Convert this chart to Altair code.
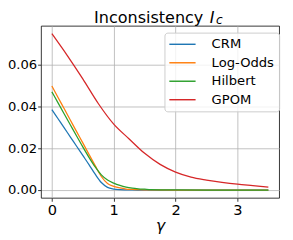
import altair as alt
import pandas as pd

# ---- data ----
series_names = ["CRM", "Log-Odds", "Hilbert", "GPOM"]
series_colors = ["#1f77b4", "#ff7f0e", "#2ca02c", "#d62728"]

gamma_fast = [0.0, 0.1, 0.2, 0.3, 0.4, 0.5, 0.6, 0.7, 0.8, 0.9, 1.0,
              1.1, 1.2, 1.3, 1.4, 1.5, 1.6, 2.0, 2.5, 3.0, 3.5]
crm = [0.0386, 0.0342, 0.0298, 0.0254, 0.0210, 0.0166, 0.0122, 0.0076, 0.0036, 0.0013, 0.0005,
       0.0002, 0.0001, 0.00004, 0.00002, 0.00001, 0.0, 0.0, 0.0, 0.0, 0.0]
log_odds = [0.0499, 0.0444, 0.0390, 0.0335, 0.0280, 0.0226, 0.0171, 0.0117, 0.0065, 0.0031, 0.0018,
            0.0010, 0.0005, 0.0003, 0.00015, 0.00007, 0.00003, 0.0, 0.0, 0.0, 0.0]
hilbert = [0.0471, 0.0418, 0.0365, 0.0312, 0.0259, 0.0207, 0.0157, 0.0111, 0.0073, 0.0048, 0.0033,
           0.0022, 0.0014, 0.0009, 0.0006, 0.0004, 0.0002, 0.00005, 0.0, 0.0, 0.0]

gamma_gpom = [0.0, 0.25, 0.5, 0.75, 1.0, 1.25, 1.5, 1.75, 2.0, 2.25, 2.5, 2.75, 3.0, 3.25, 3.5]
gpom = [0.0750, 0.0645, 0.0533, 0.0415, 0.0316, 0.0245, 0.0176, 0.0123, 0.0086, 0.0062,
        0.0048, 0.0037, 0.0028, 0.0021, 0.0014]

x_ticks = [0, 1, 2, 3]
y_ticks = [0.0, 0.02, 0.04, 0.06]
title_main = ["Inconsistency"]
title_sym = ["I"]
title_sub = ["c"]
x_title = "γ"

rows = []
for name, xs, ys in [("CRM", gamma_fast, crm), ("Log-Odds", gamma_fast, log_odds),
                     ("Hilbert", gamma_fast, hilbert), ("GPOM", gamma_gpom, gpom)]:
    for gx, gy in zip(xs, ys):
        rows.append({"gamma": gx, "value": gy, "series": name})
df = pd.DataFrame(rows)

FONT = "DejaVu Sans"

lines = alt.Chart(df).mark_line(strokeWidth=1.3, interpolate="monotone").encode(
    x=alt.X("gamma:Q",
            scale=alt.Scale(domain=[-0.175, 3.675], nice=False, zero=False),
            axis=alt.Axis(values=x_ticks, format="d", title=x_title,
                          labelFontSize=15,
                          titleFontStyle="italic", titleFontWeight="normal",
                          titleFontSize=16, titleFont=FONT, titlePadding=0)),
    y=alt.Y("value:Q",
            scale=alt.Scale(domain=[-0.00375, 0.07875], nice=False, zero=False),
            axis=alt.Axis(values=y_ticks, format=".2f", title=None,
                          labelFontSize=13.5, labelPadding=1)),
    color=alt.Color("series:N",
                    scale=alt.Scale(domain=series_names, range=series_colors),
                    legend=alt.Legend(title=None, orient="none", legendX=127, legendY=7,
                                      symbolType="M-2.25,0H2.25", symbolSize=144,
                                      symbolStrokeWidth=1.5, symbolOffset=6.5,
                                      labelOffset=23, rowPadding=5, padding=5,
                                      fillColor="rgba(255,255,255,0.8)",
                                      strokeColor="#cccccc", cornerRadius=3,
                                      labelFont=FONT, labelFontSize=13.5,
                                      labelColor="black")),
    order=alt.Order("gamma:Q"),
)

t1 = alt.Chart(pd.DataFrame({"t": title_main})).mark_text(
    align="right", baseline="alphabetic", fontSize=16.5, font=FONT, color="black"
).encode(x=alt.value(167), y=alt.value(-3), text="t:N")
t2 = alt.Chart(pd.DataFrame({"t": title_sym})).mark_text(
    align="left", baseline="alphabetic", fontSize=16.5, font=FONT, fontStyle="italic", color="black"
).encode(x=alt.value(173.5), y=alt.value(-3), text="t:N")
t3 = alt.Chart(pd.DataFrame({"t": title_sub})).mark_text(
    align="left", baseline="alphabetic", fontSize=12.5, font=FONT, fontStyle="italic", color="black"
).encode(x=alt.value(180), y=alt.value(-1.5), text="t:N")

chart = alt.layer(lines, t1, t2, t3).properties(
    width=245, height=177,
    autosize=alt.AutoSizeParams(type="none"),
    padding={"left": 34, "top": 15, "right": 6, "bottom": 40},
).configure_view(
    stroke="black", strokeWidth=0.8
).configure_axis(
    domain=False, grid=True, gridColor="#b0b0b0", gridWidth=0.8,
    tickColor="black", tickSize=3.5, tickWidth=0.8,
    labelFont=FONT, labelColor="black", labelPadding=2,
    titleColor="black",
)

chart.save("out.html", embed_options={"renderer": "svg", "actions": False})
